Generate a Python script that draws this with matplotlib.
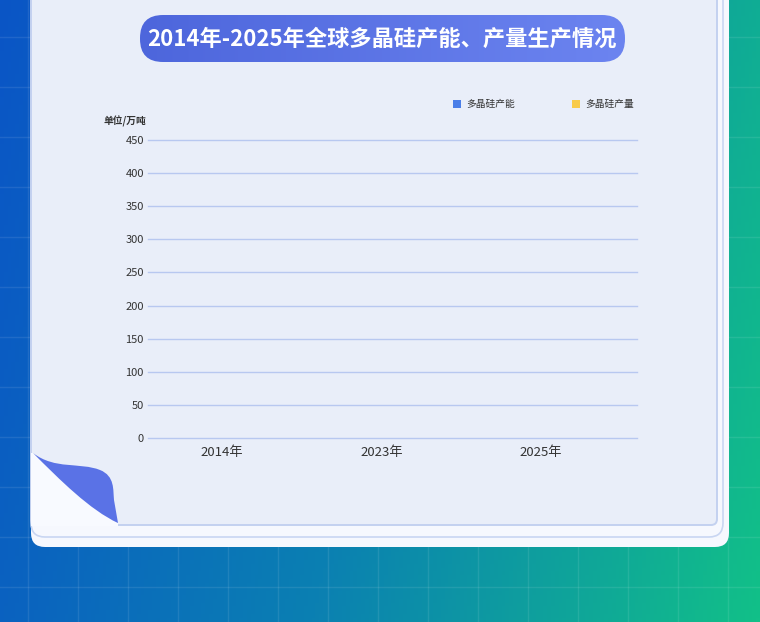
import numpy as np
import matplotlib.pyplot as plt
from matplotlib.patches import FancyBboxPatch, PathPatch, Rectangle
from matplotlib.path import Path

plt.rcParams['font.family'] = ['Noto Sans CJK SC', 'DejaVu Sans']

# data
categories = ['2014年', '2023年', '2025年']
capacity = [0, 0, 0]      # 多晶硅产能 (bars not drawn yet in the frame)
output = [0, 0, 0]        # 多晶硅产量
y_ticks = [0, 50, 100, 150, 200, 250, 300, 350, 400, 450]
title = '2014年-2025年全球多晶硅产能、产量生产情况'

W, H = 760, 622
fig = plt.figure(figsize=(W / 100, H / 100), dpi=100)

# background layer in pixel coords
bg = fig.add_axes([0, 0, 1, 1])
bg.set_xlim(0, W)
bg.set_ylim(H, 0)
bg.axis('off')

# blue -> green gradient
xx, yy = np.meshgrid(np.linspace(0, 1, 200), np.linspace(0, 1, 160))
t = np.clip(0.85 * xx + 0.15 * yy, 0, 1)
c0 = np.array([0x0a, 0x55, 0xc6]) / 255
c1 = np.array([0x0b, 0x80, 0xb2]) / 255
c2 = np.array([0x12, 0xc0, 0x88]) / 255
img = np.where(t[..., None] < 0.5,
               c0 + (c1 - c0) * (t[..., None] / 0.5),
               c1 + (c2 - c1) * ((t[..., None] - 0.5) / 0.5))
bg.imshow(img, extent=[0, W, H, 0], aspect='auto', zorder=0)
for gx in np.arange(28, W, 50):
    bg.plot([gx, gx], [0, H], color='white', alpha=0.09, lw=1, zorder=1)
for gy in np.arange(37, H, 50):
    bg.plot([0, W], [gy, gy], color='white', alpha=0.09, lw=1, zorder=1)

# card layers
bg.add_patch(FancyBboxPatch((31, -40), 698, 587, boxstyle='round,pad=0,rounding_size=14',
                            fc='#f6f8fe', ec='none', zorder=2))
bg.add_patch(FancyBboxPatch((31, -40), 692, 577, boxstyle='round,pad=0,rounding_size=14',
                            fc='#f6f8fe', ec='#c9d6f2', lw=1.2, zorder=3))
bg.add_patch(FancyBboxPatch((31, -40), 686, 565, boxstyle='round,pad=0,rounding_size=6',
                            fc='#e9eef9', ec='#c3d1f0', lw=1.4, zorder=4))

# page curl at bottom-left: white fold underneath, blue flap on top
under = Path([(31, 453), (33, 453), (60, 480), (90, 510), (118, 523),
              (118, 526), (31, 526), (31, 453)],
             [Path.MOVETO, Path.LINETO, Path.CURVE4, Path.CURVE4, Path.CURVE4,
              Path.LINETO, Path.LINETO, Path.CLOSEPOLY])
bg.add_patch(PathPatch(under, fc='#f8faff', ec='none', zorder=5))
curl = Path([(33, 453), (55, 470), (80, 462), (100, 470),
             (115, 476), (113, 490), (114, 500),
             (118, 523),
             (90, 510), (60, 480), (33, 453)],
            [Path.MOVETO, Path.CURVE4, Path.CURVE4, Path.CURVE4,
             Path.CURVE4, Path.CURVE4, Path.CURVE4,
             Path.LINETO,
             Path.CURVE4, Path.CURVE4, Path.CURVE4])
bg.add_patch(PathPatch(curl, fc='#5a72e6', ec='none', zorder=6))

# title pill with gradient
pill = FancyBboxPatch((140, 15), 485, 47, boxstyle='round,pad=0,rounding_size=23',
                      fc='none', ec='none', zorder=7)
bg.add_patch(pill)
grad = np.linspace(0, 1, 256)[None, :, None]
pc0 = np.array([0x4d, 0x66, 0xdc]) / 255
pc1 = np.array([0x6c, 0x84, 0xf0]) / 255
pill_img = bg.imshow(pc0 + (pc1 - pc0) * grad, extent=[140, 625, 62, 15],
                     aspect='auto', zorder=7)
pill_img.set_clip_path(pill)
bg.text(382, 39, title, color='white', fontsize=16, fontweight='bold',
        ha='center', va='center', zorder=8)

# legend
bg.add_patch(Rectangle((453, 100), 8, 8, fc='#4a7ee8', ec='none', zorder=8))
bg.text(466, 104, '多晶硅产能', fontsize=7, color='#333333', va='center', zorder=8)
bg.add_patch(Rectangle((572, 100), 8, 8, fc='#f8cb4a', ec='none', zorder=8))
bg.text(585, 104, '多晶硅产量', fontsize=7, color='#333333', va='center', zorder=8)
bg.text(103, 121, '单位/万吨', fontsize=7, fontweight='bold', color='#333333',
        va='center', zorder=8)

# chart axes
left, right, top, bottom = 148, 637, 140, 438
ax = fig.add_axes([left / W, (H - bottom) / H, (right - left) / W, (bottom - top) / H])
ax.patch.set_alpha(0)
x = np.arange(len(categories))
ax.bar(x - 0.15, capacity, width=0.28, color='#4a7ee8', zorder=3)
ax.bar(x + 0.15, output, width=0.28, color='#f8cb4a', zorder=3)
ax.set_xlim(-0.464, 2.602)
ax.set_ylim(0, 450)
ax.set_yticks(y_ticks)
ax.set_xticks(x)
ax.set_xticklabels(categories, fontsize=9.5, color='#333333')
ax.tick_params(axis='y', labelsize=8, colors='#333333', length=0, pad=3)
ax.tick_params(axis='x', length=0, pad=6)
for yv in y_ticks:
    ax.axhline(yv, color='#b8c8f0', lw=1, zorder=1, clip_on=False)
for s in ax.spines.values():
    s.set_visible(False)

fig.savefig('out.png', dpi=100)
